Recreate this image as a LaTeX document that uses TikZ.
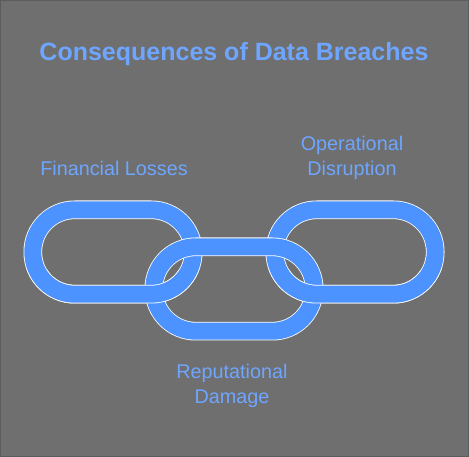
\documentclass[tikz,border=0pt]{standalone}
\usepackage{tikz}
\usepackage{xcolor}
\usepackage{fontspec}
\setmainfont{Liberation Sans}
\usetikzlibrary{calc, positioning}
\definecolor{bggray}{HTML}{6F6F6F}
\definecolor{bgedge}{HTML}{5C5C5C}
\definecolor{linkblue}{HTML}{4D93FF}
\definecolor{textblue}{HTML}{6EA6FF}
\tikzset{
  % chain link style
  chainlink/.style={
    draw=white
    , line width=0.8pt
    , double=linkblue
    , double distance=17pt
    , rounded corners=42pt
  },
}
\tikzset{
  % label text style
  lbl/.style={
    text=textblue
    , align=center
    , font=\fontsize{19.8}{25}\selectfont
  },
  title/.style={
    text=textblue
    , font=\fontsize{25}{30}\selectfont\bfseries
  },
  % invisible link frame
  frame/.style={
    minimum width=160pt
    , minimum height=84pt
    , inner sep=0pt
  },
}

\begin{document}
\begin{tikzpicture}[x=1pt, y=-1pt]
        % background
        \fill[bggray, draw=bgedge, line width=1pt] (0.5,0.5) rectangle (468.5,456.5);
        \useasboundingbox (0,0) rectangle (469,457);

        \node[title] (ttl) at (234,54) {Consequences of Data Breaches};

        % link frames
        \node[frame] (fin) at (113,252) {};
        \node[frame] (rep) at (234,289) {};
        \node[frame] (ops) at (355,252) {};

        % links
        \draw[chainlink] (fin.south west) rectangle (fin.north east);
        \draw[chainlink] (ops.south west) rectangle (ops.north east);
        \draw[chainlink] (rep.south west) rectangle (rep.north east);
        % lower halves of outer links go over the middle one
        \begin{scope}
          \clip (0,270) rectangle (469,457);
          \draw[chainlink] (fin.south west) rectangle (fin.north east);
          \draw[chainlink] (ops.south west) rectangle (ops.north east);
        \end{scope}

        % labels
        \node[lbl] (finl) at (114,168) {Financial Losses};
        \node[lbl] (opsl) at (352,158) {Operational\\Disruption};
        \node[lbl] (repl) at (232,386) {Reputational\\Damage};
      \end{tikzpicture}
\end{document}
